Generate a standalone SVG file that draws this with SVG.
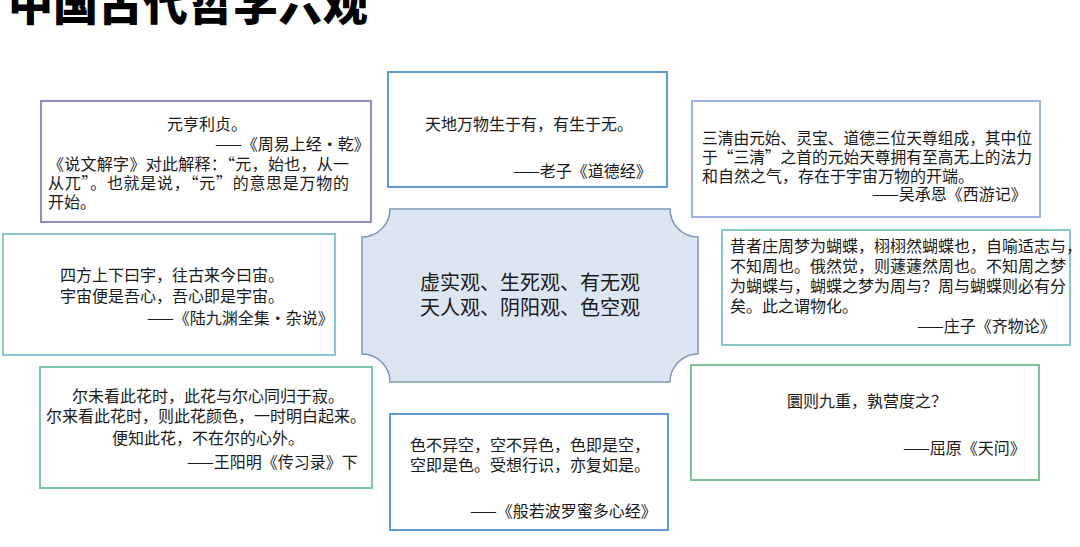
<svg xmlns="http://www.w3.org/2000/svg" width="1080" height="547" viewBox="0 0 1080 547">
<style>
text{font-family:"Microsoft YaHei","Noto Sans CJK SC","Liberation Sans",sans-serif;fill:#1a1a1a;font-size:16px}
.box{fill:#ffffff;stroke-width:2}
.title{font-size:45px;font-weight:900;fill:#000}
.c{text-anchor:middle}
.r{text-anchor:end}
.center{font-size:20px;text-anchor:middle}
</style>
<rect width="1080" height="547" fill="#ffffff"/>
<text class="title" x="8" y="21">中国古代哲学六观</text>
<g id="connectors"></g>

<g id="center">
<path d="M390,209 H670 A28,28 0 0 0 698,237 V354 A28,28 0 0 0 670,382 H390 A28,28 0 0 0 362,354 V237 A28,28 0 0 0 390,209 Z" fill="#dce6f2" stroke="#7d97b4" stroke-width="1.5"/>
<text class="center" x="530" y="290">虚实观、生死观、有无观</text>
<text class="center" x="530" y="315">天人观、阴阳观、色空观</text>
</g>

<g id="box-zhouyi">
<rect class="box" x="41" y="101" width="330" height="121" stroke="#8f8cc6"/>
<text x="167" y="130">元亨利贞。</text>
<text x="215" y="150">——《周易上经·乾》</text>
<text x="48" y="169.5" textLength="301" lengthAdjust="spacing">《说文解字》对此解释：“元，始也，从一</text>
<text x="48" y="189" textLength="301" lengthAdjust="spacing">从兀”。也就是说，“元”的意思是万物的</text>
<text x="48" y="208">开始。</text>
</g>

<g id="box-laozi">
<rect class="box" x="388" y="72" width="279" height="115" stroke="#5f9bd3"/>
<text x="425" y="130">天地万物生于有，有生于无。</text>
<text x="513" y="177">——老子《道德经》</text>
</g>

<g id="box-xiyouji">
<rect class="box" x="692" y="101" width="348" height="116" stroke="#9fb3e2"/>
<text x="702" y="144" textLength="330" lengthAdjust="spacingAndGlyphs">三清由元始、灵宝、道德三位天尊组成，其中位</text>
<text x="702" y="163" textLength="330" lengthAdjust="spacingAndGlyphs">于“三清”之首的元始天尊拥有至高无上的法力</text>
<text x="702" y="182">和自然之气，存在于宇宙万物的开端。</text>
<text x="872" y="200">——吴承恩《西游记》</text>
</g>

<g id="box-lujiuyuan">
<rect class="box" x="3" y="234" width="332" height="121" stroke="#8ec3d3"/>
<text x="60" y="281">四方上下曰宇，往古来今曰宙。</text>
<text x="60" y="302">宇宙便是吾心，吾心即是宇宙。</text>
<text x="147" y="324">——《陆九渊全集·杂说》</text>
</g>

<g id="box-zhuangzi">
<rect class="box" x="722" y="230" width="348" height="115" stroke="#88c5c9"/>
<text x="730" y="252">昔者庄周梦为蝴蝶，栩栩然蝴蝶也，自喻适志与，</text>
<text x="730" y="272">不知周也。俄然觉，则蘧蘧然周也。不知周之梦</text>
<text x="730" y="292">为蝴蝶与，蝴蝶之梦为周与？周与蝴蝶则必有分</text>
<text x="730" y="312">矣。此之谓物化。</text>
<text x="917" y="332">——庄子《齐物论》</text>
</g>

<g id="box-wangyangming">
<rect class="box" x="40" y="367" width="332" height="121" stroke="#7dc6ae"/>
<text class="c" x="208" y="402">尔未看此花时，此花与尔心同归于寂。</text>
<text class="c" x="206" y="422">尔来看此花时，则此花颜色，一时明白起来。</text>
<text class="c" x="208" y="444">便知此花，不在尔的心外。</text>
<text x="187" y="468">——王阳明《传习录》下</text>
</g>

<g id="box-xinjing">
<rect class="box" x="390" y="414" width="278" height="116" stroke="#5f9bd3"/>
<text x="410" y="451">色不异空，空不异色，色即是空，</text>
<text x="410" y="471">空即是色。受想行识，亦复如是。</text>
<text x="470" y="517">——《般若波罗蜜多心经》</text>
</g>

<g id="box-tianwen">
<rect class="box" x="691" y="365" width="348" height="115" stroke="#80c298"/>
<text class="c" x="867" y="407">圜则九重，孰营度之？</text>
<text x="903" y="454">——屈原《天问》</text>
</g>
</svg>
